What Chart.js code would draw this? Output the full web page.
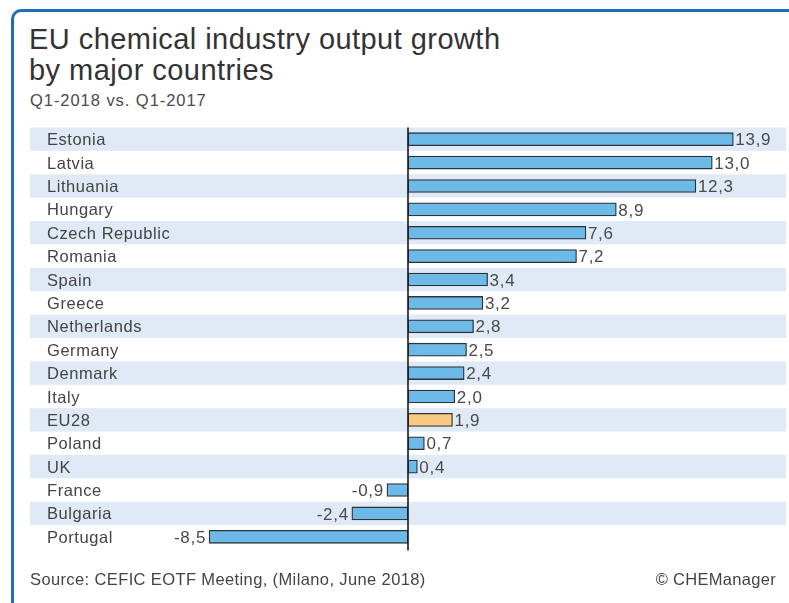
<!DOCTYPE html>
<html>
<head>
<meta charset="utf-8">
<script src="https://cdn.jsdelivr.net/npm/chart.js@4"></script>
<style>
  html, body { margin: 0; padding: 0; background: #fff; }
  #wrap { position: relative; width: 789px; height: 603px; overflow: hidden; font-family: "Liberation Sans", Arial, sans-serif; color: #333; }
  #frame { position: absolute; left: 11px; top: 9px; width: 820px; height: 640px; border-top: 3px solid #1f6dbd; border-left: 3px solid #1f6dbd; border-top-left-radius: 10px; }
  #title { position: absolute; left: 29px; top: 24px; font-size: 29px; line-height: 31px; color: #333; letter-spacing: 0.45px; }
  #sub { position: absolute; left: 30px; top: 91px; font-size: 16.5px; letter-spacing: 0.95px; color: #4a4a4a; }
  #src { position: absolute; left: 30px; top: 570px; font-size: 16.5px; letter-spacing: 0.38px; color: #444; }
  #copy { position: absolute; right: 13px; top: 570px; font-size: 16.5px; letter-spacing: 0.3px; color: #444; }
  canvas { position: absolute; left: 0; top: 0; }
</style>
</head>
<body>
<div id="wrap">
  <div id="frame"></div>
  <div id="title">EU chemical industry output growth<br>by major countries</div>
  <div id="sub">Q1-2018 vs. Q1-2017</div>
  <canvas id="c" width="789" height="603"></canvas>
  <div id="src">Source: CEFIC EOTF Meeting, (Milano, June 2018)</div>
  <div id="copy">© CHEManager</div>
</div>
<script>
const countries = ["Estonia","Latvia","Lithuania","Hungary","Czech Republic","Romania","Spain","Greece","Netherlands","Germany","Denmark","Italy","EU28","Poland","UK","France","Bulgaria","Portugal"];
const growth = [13.9, 13.0, 12.3, 8.9, 7.6, 7.2, 3.4, 3.2, 2.8, 2.5, 2.4, 2.0, 1.9, 0.7, 0.4, -0.9, -2.4, -8.5];
const valueLabels = ["13,9","13,0","12,3","8,9","7,6","7,2","3,4","3,2","2,8","2,5","2,4","2,0","1,9","0,7","0,4","-0,9","-2,4","-8,5"];
const highlight = "EU28";

const BLUE = "#6db9e7", ORANGE = "#f9c982", STRIPE = "#e0eaf6";
const FONT = "'Liberation Sans', Arial, sans-serif";

const decor = {
  id: "decor",
  beforeDatasetsDraw(chart) {
    const {ctx, chartArea: a, scales: {x, y}} = chart;
    ctx.save();
    const n = countries.length;
    const h = (a.bottom - a.top) / n;
    for (let i = 0; i < n; i += 2) {
      const cy = y.getPixelForValue(i);
      ctx.fillStyle = STRIPE;
      ctx.fillRect(a.left, cy - h / 2, a.right - a.left, h);
    }
    ctx.fillStyle = "#444";
    ctx.font = "16.5px " + FONT;
    ctx.letterSpacing = "0.55px";
    ctx.textBaseline = "middle";
    ctx.textAlign = "left";
    countries.forEach((c, i) => ctx.fillText(c, a.left + 17, y.getPixelForValue(i) + 1.5));
    ctx.restore();
  },
  afterDatasetsDraw(chart) {
    const {ctx, chartArea: a, scales: {x, y}} = chart;
    ctx.save();
    const x0 = x.getPixelForValue(0);
    ctx.strokeStyle = "#1a1a1a";
    ctx.lineWidth = 1.6;
    ctx.beginPath();
    ctx.moveTo(x0, a.top);
    ctx.lineTo(x0, a.bottom + 2);
    ctx.stroke();
    ctx.fillStyle = "#4a4a4a";
    ctx.font = "17px " + FONT;
    ctx.letterSpacing = "0.7px";
    ctx.textBaseline = "middle";
    growth.forEach((v, i) => {
      const px = x.getPixelForValue(v);
      const py = y.getPixelForValue(i) + 1.5;
      if (v >= 0) { ctx.textAlign = "left"; ctx.fillText(valueLabels[i], px + 2, py); }
      else { ctx.textAlign = "right"; ctx.fillText(valueLabels[i], px - 3, py); }
    });
    ctx.restore();
  }
};

new Chart(document.getElementById("c"), {
  type: "bar",
  data: {
    labels: countries,
    datasets: [{
      data: growth,
      backgroundColor: countries.map(c => c === highlight ? ORANGE : BLUE),
      borderColor: "#2e3338",
      borderWidth: 1.3,
      borderSkipped: false,
      barThickness: 13
    }]
  },
  options: {
    indexAxis: "y",
    responsive: false,
    animation: false,
    devicePixelRatio: 1,
    layout: { padding: { left: 30, right: 3, top: 127.5, bottom: 54.5 } },
    plugins: { legend: { display: false }, tooltip: { enabled: false }, title: { display: false } },
    scales: {
      x: { display: false, min: -16.15, max: 16.15 },
      y: { display: false }
    }
  },
  plugins: [decor]
});
</script>
</body>
</html>
